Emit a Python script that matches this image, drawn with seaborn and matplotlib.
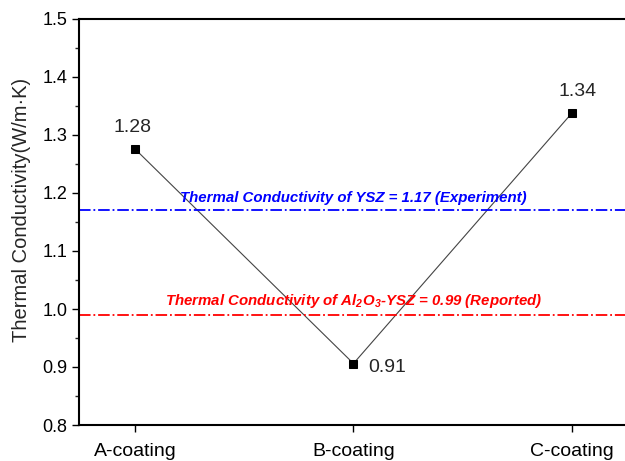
import matplotlib
matplotlib.use("Agg")
import matplotlib.pyplot as plt
from matplotlib.ticker import MultipleLocator
import seaborn as sns

# data
coatings = ["A-coating", "B-coating", "C-coating"]
conductivity = [1.276, 0.906, 1.338]
point_labels = ["1.28", "0.91", "1.34"]
ysz_value = 1.17
al2o3_ysz_value = 0.99

sns.set_style("ticks")
plt.rcParams['font.family'] = ['Liberation Sans', 'DejaVu Sans']
plt.rcParams['mathtext.fontset'] = 'custom'
plt.rcParams['mathtext.rm'] = 'Liberation Sans:italic:bold'
plt.rcParams['mathtext.it'] = 'Liberation Sans:italic:bold'

fig = plt.figure(figsize=(6.25, 4.61), dpi=100)
ax = fig.add_axes([79 / 625, 1 - 425 / 461, (660 - 79) / 625, (425 - 19) / 461])

sns.lineplot(x=coatings, y=conductivity, ax=ax, color='#444444', linewidth=0.8,
             marker='s', markersize=6, markerfacecolor='black', markeredgecolor='black')

# reference lines
ax.axhline(ysz_value, color='blue', linestyle='-.', linewidth=1.3)
ax.axhline(al2o3_ysz_value, color='red', linestyle='-.', linewidth=1.3)
ax.text(1.0, ysz_value + 0.021, "Thermal Conductivity of YSZ = 1.17 (Experiment)",
        color='blue', fontsize=10.8, fontweight='bold', style='italic', ha='center', va='center')
ax.text(1.0, al2o3_ysz_value + 0.024, r"Thermal Conductivity of Al$_2$O$_3$-YSZ = 0.99 (Reported)",
        color='red', fontsize=10.8, fontweight='bold', style='italic', ha='center', va='center')

# point labels
offsets = [(-2, 9), (11, -3), (4, 9)]
aligns = [('center', 'bottom'), ('left', 'center'), ('center', 'bottom')]
for i, (lab, val) in enumerate(zip(point_labels, conductivity)):
    ax.annotate(lab, (i, val), xytext=offsets[i], textcoords='offset points',
                ha=aligns[i][0], va=aligns[i][1], fontsize=14)

ax.set_xlim(-0.256, (660 - 135) / 218.5)
ax.set_ylim(0.8, 1.5)
ax.yaxis.set_major_locator(MultipleLocator(0.1))
ax.yaxis.set_minor_locator(MultipleLocator(0.05))
ax.set_ylabel("Thermal Conductivity(W/m·K)", fontsize=14.5)
ax.yaxis.set_label_coords(-0.083, 0.53)
ax.set_xlabel("")
ax.tick_params(axis='both', which='major', direction='out', width=1, length=5, colors='black')
ax.tick_params(axis='y', labelsize=13)
ax.tick_params(axis='x', labelsize=14, pad=8)
ax.tick_params(axis='y', which='minor', direction='out', width=1, length=3)
for side in ['left', 'bottom', 'top']:
    ax.spines[side].set_linewidth(1.5)
    ax.spines[side].set_color('black')
ax.spines['right'].set_visible(False)

plt.savefig("out.png", dpi=100)
